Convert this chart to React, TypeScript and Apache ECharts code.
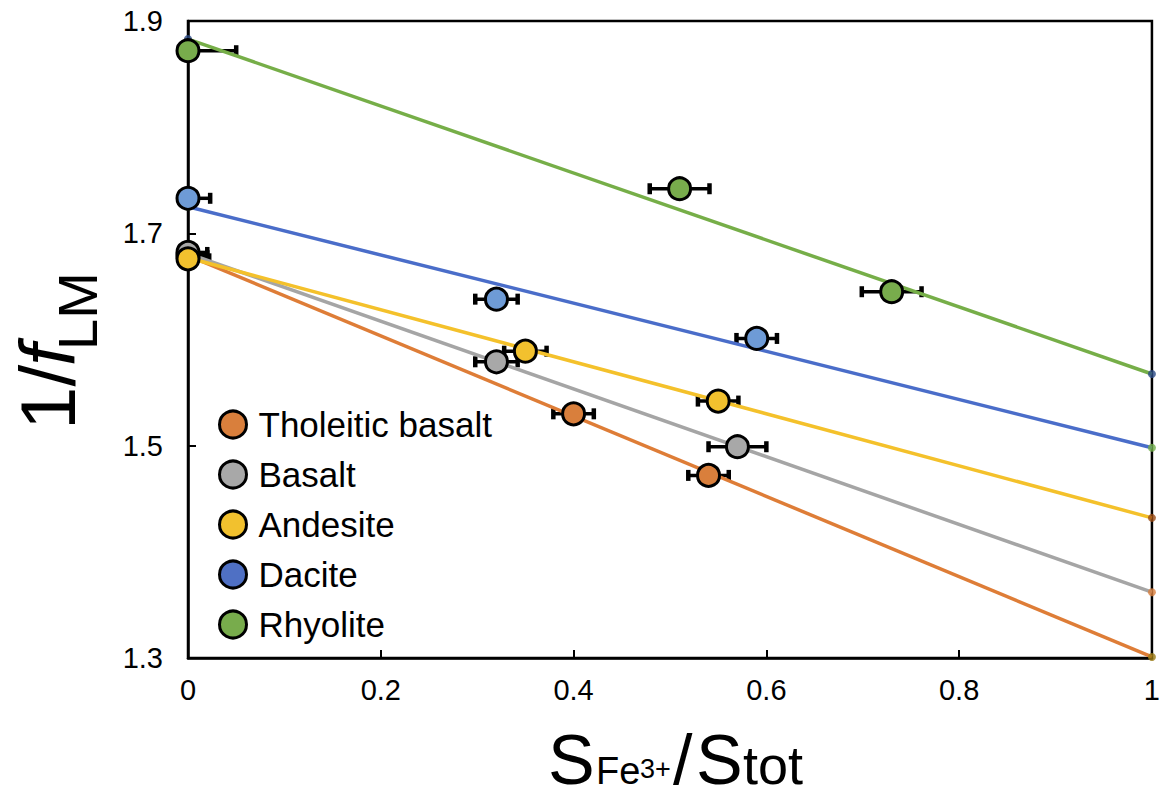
import React, { useEffect, useRef } from 'react';
import * as echarts from 'echarts';

// ---- data ----
const ROCKS = ['Tholeitic basalt', 'Basalt', 'Andesite', 'Dacite', 'Rhyolite'];

const THOL_X = [0, 0.40, 0.54];
const THOL_Y = [1.679, 1.530, 1.472];
const THOL_ERR = [0.02, 0.021, 0.021];

const BASALT_X = [0, 0.32, 0.57];
const BASALT_Y = [1.682, 1.579, 1.499];
const BASALT_ERR = [0.02, 0.022, 0.03];

const ANDESITE_X = [0, 0.35, 0.55];
const ANDESITE_Y = [1.676, 1.589, 1.542];
const ANDESITE_ERR = [0.022, 0.022, 0.021];

const DACITE_X = [0, 0.32, 0.59];
const DACITE_Y = [1.733, 1.638, 1.601];
const DACITE_ERR = [0.023, 0.022, 0.021];

const RHYOLITE_X = [0, 0.51, 0.73];
const RHYOLITE_Y = [1.872, 1.742, 1.645];
const RHYOLITE_ERR = [0.05, 0.031, 0.031];

// trend lines: value at x = 0 and x = 1
const TREND_X = [0, 1];
const TREND_Y0 = [1.679, 1.681, 1.677, 1.725, 1.883];
const TREND_Y1 = [1.301, 1.362, 1.432, 1.498, 1.5675];

const X_MIN = 0;
const X_MAX = 1;
const Y_MIN = 1.3;
const Y_MAX = 1.9;
const Y_TICKS = [1.3, 1.5, 1.7, 1.9];

// ---- styles ----
const MARKER_COLORS = ['#D97F3C', '#A8A8A8', '#F2C12E', '#6E9BD6', '#78AC4C'];
const LINE_COLORS = ['#DE7D37', '#A5A5A5', '#F4C12B', '#4A6DC9', '#76AE48'];
const LEGEND_COLORS = ['#D97F3C', '#A8A8A8', '#F2C12E', '#4F70C4', '#78AC4C'];
const END_COLORS = ['#9A7B14', '#D9803F', '#9A4A14', '#72AE4A', '#2A4A86'];

const FONT = '"Liberation Sans", Arial, Helvetica, sans-serif';

export default function App() {
  const ref = useRef<HTMLDivElement>(null);

  useEffect(() => {
    if (!ref.current) return;
    const chart = echarts.init(ref.current, undefined, { renderer: 'svg' });

    const groups = [
      { x: THOL_X, y: THOL_Y, e: THOL_ERR },
      { x: BASALT_X, y: BASALT_Y, e: BASALT_ERR },
      { x: ANDESITE_X, y: ANDESITE_Y, e: ANDESITE_ERR },
      { x: DACITE_X, y: DACITE_Y, e: DACITE_ERR },
      { x: RHYOLITE_X, y: RHYOLITE_Y, e: RHYOLITE_ERR },
    ];

    const errSeries = groups.map((g, i) => ({
      type: 'custom',
      name: 'err' + i,
      z: 2,
      silent: true,
      encode: { x: 0, y: 1 },
      data: g.x.map((xv, k) => [xv, g.y[k], g.e[k]]),
      renderItem: (params: any, api: any) => {
        const x = api.value(0);
        const y = api.value(1);
        const e = api.value(2);
        const xl = Math.max(x - e, X_MIN);
        const xr = Math.min(x + e, X_MAX);
        const pl = api.coord([xl, y]);
        const pr = api.coord([xr, y]);
        const h = 5.5;
        const children: any[] = [
          { type: 'line', shape: { x1: pl[0], y1: pl[1], x2: pr[0], y2: pr[1] }, style: { stroke: '#000', lineWidth: 3.5 } },
        ];
        if (x - e >= X_MIN) {
          children.push({ type: 'line', shape: { x1: pl[0], y1: pl[1] - h, x2: pl[0], y2: pl[1] + h }, style: { stroke: '#000', lineWidth: 4.5 } });
        }
        if (x + e <= X_MAX) {
          children.push({ type: 'line', shape: { x1: pr[0], y1: pr[1] - h, x2: pr[0], y2: pr[1] + h }, style: { stroke: '#000', lineWidth: 4.5 } });
        }
        return { type: 'group', children };
      },
    }));

    const lineSeries = ROCKS.map((r, i) => ({
      type: 'line',
      name: 'trend' + i,
      z: 3,
      silent: true,
      showSymbol: false,
      lineStyle: { color: LINE_COLORS[i], width: 3.5 },
      data: TREND_X.map((xv, k) => [xv, k === 0 ? TREND_Y0[i] : TREND_Y1[i]]),
    }));

    const endSeries = ROCKS.map((r, i) => ({
      type: 'scatter',
      name: 'end' + i,
      z: 4,
      silent: true,
      symbol: 'circle',
      symbolSize: 8,
      itemStyle: { color: END_COLORS[i] },
      data: TREND_X.map((xv, k) => [xv, k === 0 ? TREND_Y0[i] : TREND_Y1[i]]),
    }));

    const scatterSeries = ROCKS.map((r, i) => ({
      type: 'scatter',
      name: r,
      z: 5,
      symbol: 'circle',
      symbolSize: 22,
      itemStyle: { color: MARKER_COLORS[i], borderColor: '#000', borderWidth: 3, opacity: 1 },
      data: groups[i].x.map((xv, k) => [xv, groups[i].y[k]]),
    }));

    const B = 784; // x title baseline
    const mid = (base: number, f: number) => base - 0.3465 * f;

    chart.setOption({
      animation: false,
      backgroundColor: '#fff',
      grid: {
        left: 188, right: 11, top: 21, bottom: 142,
        show: true, borderColor: '#000', borderWidth: 2.5,
      },
      legend: {
        orient: 'vertical',
        left: 213,
        top: 402,
        itemWidth: 27,
        itemHeight: 27,
        itemGap: 15,
        selectedMode: false,
        data: ROCKS.map((r, i) => ({
          name: r,
          itemStyle: { color: LEGEND_COLORS[i], borderColor: '#000', borderWidth: 3 },
        })),
        textStyle: { fontSize: 35, color: '#000', fontFamily: FONT, padding: [0, 0, 0, 7] },
      },
      xAxis: {
        type: 'value',
        min: X_MIN,
        max: X_MAX,
        interval: 0.2,
        splitLine: { show: false },
        axisLine: { lineStyle: { color: '#000', width: 2.5 } },
        axisTick: { inside: true, length: 8, lineStyle: { color: '#000', width: 2 } },
        axisLabel: { fontSize: 29, color: '#000', fontFamily: FONT, margin: 17 },
      },
      yAxis: {
        type: 'value',
        min: Y_MIN,
        max: Y_MAX,
        splitLine: { show: false },
        axisLine: { lineStyle: { color: '#000', width: 2.5 } },
        axisTick: { inside: true, length: 8, lineStyle: { color: '#000', width: 2 }, customValues: Y_TICKS },
        axisLabel: {
          fontSize: 29, color: '#000', fontFamily: FONT, margin: 25,
          customValues: Y_TICKS,
          formatter: (v: number) => v.toFixed(1),
        },
      },
      graphic: [
        // x-axis title: S_Fe3+ / S_tot
        { type: 'text', x: 548, y: mid(B, 70), style: { text: 'S', fontSize: 70, fontFamily: FONT, fill: '#000', align: 'left', verticalAlign: 'middle' } },
        { type: 'text', x: 596, y: mid(B, 38), style: { text: 'Fe', fontSize: 38, fontFamily: FONT, fill: '#000', align: 'left', verticalAlign: 'middle' } },
        { type: 'text', x: 640, y: mid(778, 27), style: { text: '3+', fontSize: 27, fontFamily: FONT, fill: '#000', align: 'left', verticalAlign: 'middle' } },
        { type: 'text', x: 673, y: mid(B, 70), style: { text: '/', fontSize: 70, fontFamily: FONT, fill: '#000', align: 'left', verticalAlign: 'middle' } },
        { type: 'text', x: 696, y: mid(B, 70), style: { text: 'S', fontSize: 70, fontFamily: FONT, fill: '#000', align: 'left', verticalAlign: 'middle' } },
        { type: 'text', x: 743, y: mid(B, 54), style: { text: 'tot', fontSize: 54, fontFamily: FONT, fill: '#000', align: 'left', verticalAlign: 'middle' } },
        // y-axis title: 1 / f_LM (rotated)
        { type: 'text', x: 75 - 0.3465 * 78, y: 430, rotation: Math.PI / 2, style: { text: '1/', fontSize: 78, fontFamily: FONT, fill: '#000', align: 'left', verticalAlign: 'middle' } },
        { type: 'text', x: 75 - 0.3465 * 78, y: 366, rotation: Math.PI / 2, style: { text: 'f', fontSize: 78, fontStyle: 'italic', fontFamily: FONT, fill: '#000', align: 'left', verticalAlign: 'middle' } },
        { type: 'text', x: 97 - 0.3465 * 56, y: 350, rotation: Math.PI / 2, style: { text: 'LM', fontSize: 56, fontFamily: FONT, fill: '#000', align: 'left', verticalAlign: 'middle' } },
      ],
      series: [...errSeries, ...lineSeries, ...endSeries, ...scatterSeries],
    });

    return () => chart.dispose();
  }, []);

  return (
    <div
      ref={ref}
      style={{ position: 'absolute', left: 0, top: 0, width: 1163, height: 800, background: '#fff' }}
    />
  );
}
